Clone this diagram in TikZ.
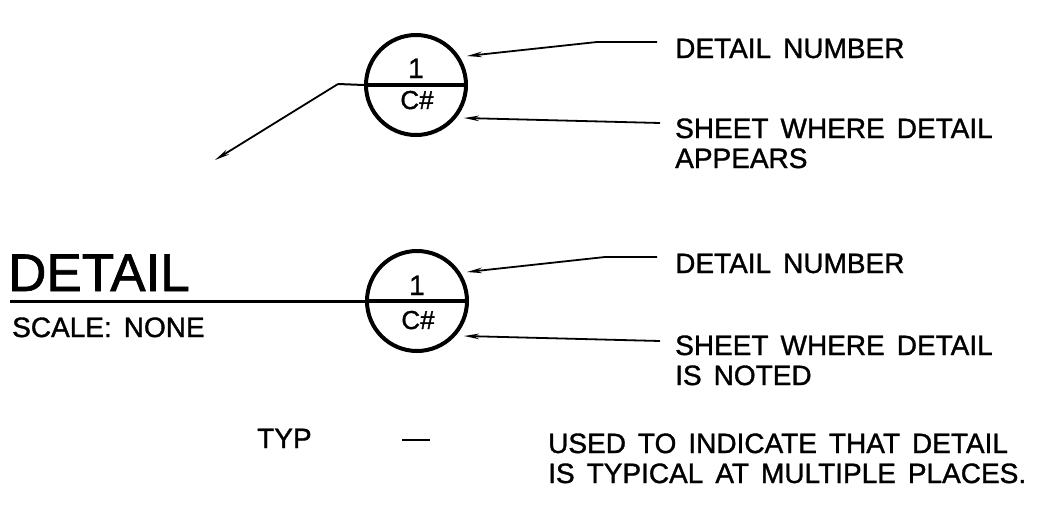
\documentclass[tikz,border=0pt]{standalone}
\usepackage{fontspec}
\setmainfont{Liberation Sans}[BoldFont={Liberation Sans},BoldFeatures={FakeBold=1.2}]
\usetikzlibrary{arrows.meta}
\newcommand\mywidesp{\spaceskip=12pt plus 2pt minus 1pt\relax}
\begin{document}
\begin{tikzpicture}[x=1pt,y=-1pt,
  lbl/.style={inner sep=0pt, anchor=base west, font=\fontsize{28}{30}\selectfont\bfseries\mywidesp},
  bubble/.style={circle, draw, line width=4pt, minimum size=100pt, inner sep=0pt},
  numtxt/.style={inner sep=0pt, anchor=base, font=\fontsize{28}{28}\selectfont\bfseries},
  shttxt/.style={inner sep=0pt, anchor=base, font=\fontsize{26}{26}\selectfont\bfseries},
  ptr/.style={line width=1.8pt, -{Stealth[length=15pt,width=5.5pt]}},
  thinline/.style={line width=2pt},
  divider/.style={line width=4pt}]
\useasboundingbox (0,0) rectangle (1038,509);

% ---------- top bubble ----------
\node[bubble] (c1) at (416,85) {};
\node[numtxt] (n1) at (416,78) {1};
\node[shttxt] (s1) at (417,109) {C\#};
\draw[divider] (c1.west) -- (c1.east);
\coordinate (k1) at (338,84);
\coordinate (t1) at (215,160);
\draw[thinline] (c1.west) -- (k1);
\draw[ptr] (k1) -- (t1);

\node[lbl] (a1) at (675,58) {DETAIL NUMBER};
\node[lbl] (b1) at (675,138) {SHEET WHERE DETAIL};
\node[lbl] (b1b) at (675,168) {APPEARS};
\coordinate (a1t) at (657,42);
\coordinate (a1k) at (597,42);
\coordinate (a1h) at (467,56);
\draw[ptr] (a1t) -- (a1k) -- (a1h);
\coordinate (b1t) at (660,123);
\coordinate (b1h) at (464,118);
\draw[ptr] (b1t) -- (b1h);

% ---------- title bubble ----------
\node[bubble] (c2) at (417,301) {};
\node[numtxt] (n2) at (417,295) {1};
\node[shttxt] (s2) at (418,329) {C\#};
\node[inner sep=0pt, anchor=base west, font=\fontsize{53}{55}\selectfont\bfseries] (dt) at (8,291) {DETAIL};
\node[lbl] (sc) at (12,337) {SCALE: NONE};
\coordinate (u0) at (10,301);
\draw[line width=3pt] (u0) -- (c2.west);
\draw[divider] (c2.west) -- (c2.east);

\node[lbl] (a2) at (675,273) {DETAIL NUMBER};
\node[lbl] (b2) at (675,355) {SHEET WHERE DETAIL};
\node[lbl] (b2b) at (675,385) {IS NOTED};
\coordinate (a2t) at (657,257);
\coordinate (a2k) at (605,257);
\coordinate (a2h) at (467,272);
\draw[ptr] (a2t) -- (a2k) -- (a2h);
\coordinate (b2t) at (660,341);
\coordinate (b2h) at (464,336);
\draw[ptr] (b2t) -- (b2h);

% ---------- TYP note ----------
\node[lbl] (typ) at (257,448) {TYP};
\coordinate (d0) at (402,440);
\coordinate (d1) at (430,440);
\draw[line width=2.5pt] (d0) -- (d1);
\node[lbl] (u1) at (548,453) {USED TO INDICATE THAT DETAIL};
\node[lbl] (u2) at (548,483) {IS TYPICAL AT MULTIPLE PLACES.};
\end{tikzpicture}
\end{document}
